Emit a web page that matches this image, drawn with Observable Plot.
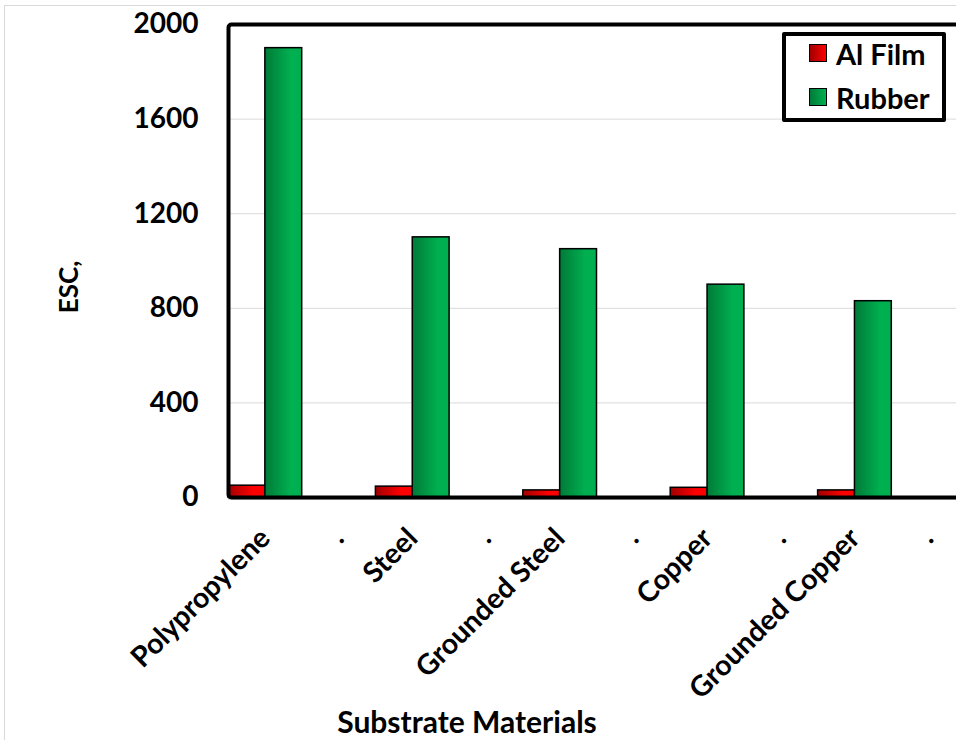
<!DOCTYPE html>
<html>
<head>
<meta charset="utf-8">
<script src="https://cdn.jsdelivr.net/npm/d3@7"></script>
<script src="https://cdn.jsdelivr.net/npm/@observablehq/plot@0.6"></script>
<style>
  html, body { margin: 0; padding: 0; background: #fff; overflow: hidden; }
  #wrap { position: relative; width: 956px; height: 740px; overflow: hidden; font-family: Lato, "Open Sans", sans-serif; }
  #wrap svg { max-width: none !important; display: block; }
  #outer { position: absolute; left: 4px; top: 5px; width: 1000px; height: 800px; border: 1px solid #d9d9d9; pointer-events: none; }
  #legend {
    position: absolute; left: 782px; top: 32px; width: 156px; height: 82px;
    border: 4px solid #000; border-radius: 2px; background: #fff;
    font-weight: 700; font-size: 29px; color: #000;
  }
  #legend .item { position: absolute; left: 23px; display: flex; align-items: center; height: 30px; white-space: nowrap; }
  #legend .sw { width: 16px; height: 16px; border: 1px solid #000; margin-right: 9px; }
  #xtitle {
    position: absolute; left: 267px; width: 400px; top: 706px; text-align: center;
    font-weight: 700; font-size: 30px; line-height: 30px; color: #000;
  }
  #ytitle {
    position: absolute; left: -32px; width: 200px; top: 274px; height: 26px; text-align: center;
    font-weight: 700; font-size: 26px; line-height: 26px; color: #000;
    transform: rotate(-90deg); transform-origin: 100px 13px;
  }
</style>
</head>
<body>
<div id="wrap"><div id="outer"></div></div>
<script>
// Substrate materials (dotted entries are empty spacer slots between groups)
const categoryKeys = ["Polypropylene", "s1", "Steel", "s2", "Grounded Steel", "s3", "Copper", "s4", "Grounded Copper", "s5"];
const tickLabels = ["Polypropylene", ".", "Steel", ".", "Grounded Steel", ".", "Copper", ".", "Grounded Copper", "."];
const seriesNames = ["Al Film", "Rubber"];
const alFilm = [50, 0, 46, 0, 30, 0, 41, 0, 30, 0];
const rubber = [1900, 0, 1100, 0, 1050, 0, 900, 0, 830, 0];
const yTicks = [0, 400, 800, 1200, 1600, 2000];
const xTitle = "Substrate Materials";
const yTitle = "ESC,";

const seriesFill = {"Al Film": "url(#gradRed)", "Rubber": "url(#gradGreen)"};
const seriesSwatch = {"Al Film": ["#a00000", "#ff0000"], "Rubber": ["#007a38", "#00b050"]};

const rows = [];
categoryKeys.forEach((c, i) => {
  rows.push({cat: c, series: "Al Film", value: alFilm[i]});
  rows.push({cat: c, series: "Rubber", value: rubber[i]});
});

const W = 970, H = 740;
const mL = 228, mR = 5, mT = 24, mB = 243;
const half = (W - mL - mR) / categoryKeys.length / 2;
const labelOf = new Map(categoryKeys.map((k, i) => [k, tickLabels[i]]));

const chart = Plot.plot({
  width: W,
  height: H,
  marginLeft: mL,
  marginRight: mR,
  marginTop: mT,
  marginBottom: mB,
  style: {fontFamily: "Lato, 'Open Sans', sans-serif", fontWeight: 700, color: "#000", background: "transparent", maxWidth: "none"},
  x: {domain: categoryKeys, padding: 0, round: false},
  y: {domain: [0, 2000]},
  marks: [
    Plot.gridY(yTicks.slice(1, -1), {stroke: "#d9d9d9", strokeOpacity: 1, strokeWidth: 1}),
    Plot.barY(rows.filter(d => d.series === "Al Film"), {
      x: "cat", y: "value", fill: seriesFill["Al Film"], stroke: "#000", strokeWidth: 1.5, insetRight: half
    }),
    Plot.barY(rows.filter(d => d.series === "Rubber"), {
      x: "cat", y: "value", fill: seriesFill["Rubber"], stroke: "#000", strokeWidth: 1.5, insetLeft: half
    }),
    Plot.ruleY([0], {stroke: "#000", strokeWidth: 1.5}),
    Plot.ruleY([0], {stroke: "#bdbdbd", strokeWidth: 1, dy: 1.5}),
    Plot.frame({stroke: "#000", strokeWidth: 4, rx: 3}),
    Plot.axisY(yTicks, {
      tickSize: 0, tickPadding: 30, fontSize: 28, tickFormat: d => String(d), label: null
    }),
    Plot.axisX({
      tickSize: 0, tickPadding: 36, tickRotate: -45, fontSize: 28.5,
      tickFormat: d => labelOf.get(d), label: null
    })
  ]
});

// Horizontal gradients used by the bar fills
const defs = d3.select(chart).insert("defs", ":first-child");
for (const [id, [c0, c1]] of [["gradRed", seriesSwatch["Al Film"]], ["gradGreen", seriesSwatch["Rubber"]]]) {
  const g = defs.append("linearGradient").attr("id", id).attr("x1", 0).attr("x2", 1).attr("y1", 0).attr("y2", 0);
  g.append("stop").attr("offset", "0%").attr("stop-color", c0);
  g.append("stop").attr("offset", "70%").attr("stop-color", c1);
  g.append("stop").attr("offset", "100%").attr("stop-color", c1);
}

const wrap = document.getElementById("wrap");
wrap.appendChild(chart);

// Axis titles
const xt = document.createElement("div");
xt.id = "xtitle";
xt.textContent = xTitle;
wrap.appendChild(xt);
const yt = document.createElement("div");
yt.id = "ytitle";
yt.textContent = yTitle;
wrap.appendChild(yt);

// Legend
const legend = document.createElement("div");
legend.id = "legend";
seriesNames.forEach((s, i) => {
  const item = document.createElement("div");
  item.className = "item";
  item.style.top = (i === 0 ? 2 : 46) + "px";
  const sw = document.createElement("span");
  sw.className = "sw";
  sw.style.background = `linear-gradient(to right, ${seriesSwatch[s][0]}, ${seriesSwatch[s][1]})`;
  const t = document.createElement("span");
  t.textContent = s;
  item.appendChild(sw);
  item.appendChild(t);
  legend.appendChild(item);
});
wrap.appendChild(legend);
</script>
</body>
</html>
